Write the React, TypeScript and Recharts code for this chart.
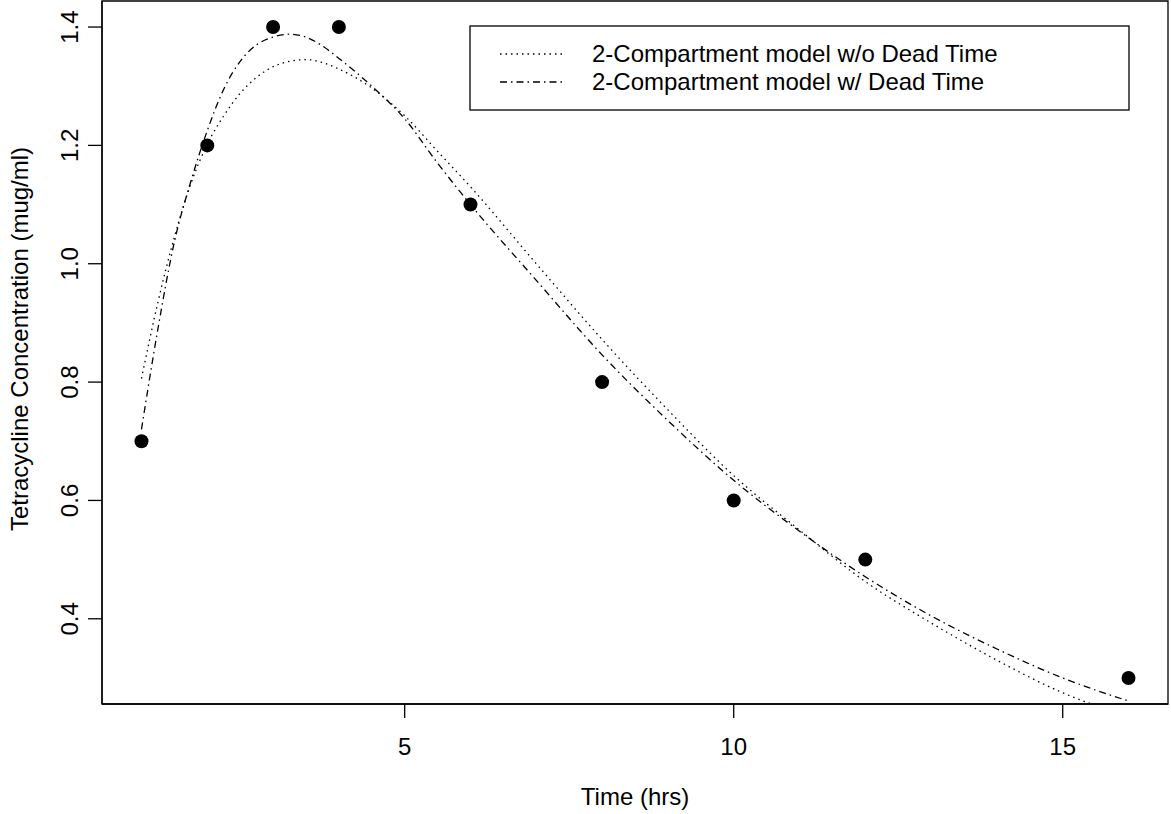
import {
  ComposedChart,
  Line,
  Scatter,
  XAxis,
  YAxis,
  ReferenceArea,
  Label,
} from "recharts"

// observed tetracycline concentrations
const obsTime = [1, 2, 3, 4, 6, 8, 10, 12, 16]
const obsConc = [0.7, 1.2, 1.4, 1.4, 1.1, 0.8, 0.6, 0.5, 0.3]

// fitted curves
const fitTime = [
  1, 1.25, 1.5, 1.75, 2, 2.25, 2.5, 2.75, 3, 3.25, 3.5, 3.75, 4, 4.5, 5, 5.5, 6, 7, 8, 9, 10,
  11, 12, 13, 14, 15, 16,
]
const noDeadTime = [
  0.806, 0.935, 1.045, 1.135, 1.202, 1.25, 1.288, 1.315, 1.333, 1.342, 1.345, 1.34, 1.329,
  1.297, 1.25, 1.19, 1.13, 1.0, 0.872, 0.753, 0.642, 0.55, 0.463, 0.393, 0.33, 0.275, 0.235,
]
const withDeadTime = [
  0.72, 0.89, 1.037, 1.139, 1.225, 1.295, 1.342, 1.37, 1.383, 1.388, 1.383, 1.368, 1.347,
  1.3, 1.245, 1.17, 1.1, 0.972, 0.846, 0.735, 0.634, 0.548, 0.471, 0.405, 0.349, 0.3, 0.261,
]

const xTicks = [5, 10, 15]
const yTicks = [0.4, 0.6, 0.8, 1.0, 1.2, 1.4]

const legendLabels = ["2-Compartment model w/o Dead Time", "2-Compartment model w/ Dead Time"]

const points = obsTime.map((t, i) => ({ t, v: obsConc[i] }))
const fitA = fitTime.map((t, i) => ({ t, v: noDeadTime[i] }))
const fitB = fitTime.map((t, i) => ({ t, v: withDeadTime[i] }))

const FONT = "'Liberation Sans', Arial, sans-serif"
const DOTTED = "1.5 4"
const DASHDOT = "7 4 1.5 4"

const XTick = ({ x, payload }: any) => (
  <text x={x} y={755} textAnchor="middle" fontSize={24} fontFamily={FONT} fill="#000">
    {payload.value}
  </text>
)

const YTick = ({ y, payload }: any) => (
  <text
    x={78}
    y={y}
    transform={`rotate(-90 78 ${y})`}
    textAnchor="middle"
    fontSize={24}
    fontFamily={FONT}
    fill="#000"
  >
    {Number(payload.value).toFixed(1)}
  </text>
)

const LegendBox = () => (
  <svg width={662} height={86} style={{ display: "block" }}>
    <rect x={1} y={1} width={659} height={84} fill="#fff" stroke="#000" strokeWidth={1.3} />
    {legendLabels.map((label, i) => {
      const cy = 29 + i * 28
      return (
        <g key={label}>
          <line
            x1={31}
            x2={94}
            y1={cy}
            y2={cy}
            stroke="#000"
            strokeWidth={1.3}
            strokeDasharray={i === 0 ? DOTTED : DASHDOT}
          />
          <text x={123} y={cy + 8} fontSize={24} fontFamily={FONT} fill="#000">
            {label}
          </text>
        </g>
      )
    })}
  </svg>
)

export default function App() {
  return (
    <div style={{ position: "absolute", left: 0, top: 0, width: 1171, height: 814, background: "#fff" }}>
      <ComposedChart width={1171} height={814} margin={{ top: 1, right: 3, bottom: 0, left: 0 }}>
        <XAxis
          dataKey="t"
          type="number"
          domain={[0.4, 16.6]}
          ticks={xTicks}
          allowDataOverflow
          height={110}
          tickSize={14}
          axisLine={{ stroke: "#000", strokeWidth: 1.3 }}
          tickLine={{ stroke: "#000", strokeWidth: 1.3 }}
          tick={<XTick />}
        >
          <Label
            content={() => (
              <text x={635} y={805} textAnchor="middle" fontSize={24} fontFamily={FONT} fill="#000">
                Time (hrs)
              </text>
            )}
          />
        </XAxis>
        <YAxis
          dataKey="v"
          type="number"
          domain={[0.256, 1.444]}
          ticks={yTicks}
          allowDataOverflow
          width={102}
          tickSize={14}
          axisLine={{ stroke: "#000", strokeWidth: 1.3 }}
          tickLine={{ stroke: "#000", strokeWidth: 1.3 }}
          tick={<YTick />}
        >
          <Label
            content={() => (
              <text
                x={28}
                y={339}
                transform="rotate(-90 28 339)"
                textAnchor="middle"
                fontSize={24}
                fontFamily={FONT}
                fill="#000"
              >
                Tetracycline Concentration (mug/ml)
              </text>
            )}
          />
        </YAxis>
        <ReferenceArea
          x1={0.4}
          x2={16.6}
          y1={0.256}
          y2={1.444}
          fill="none"
          stroke="#000"
          strokeWidth={1.3}
          ifOverflow="visible"
        />
        <Line
          data={fitA}
          dataKey="v"
          type="monotone"
          stroke="#000"
          strokeWidth={1.3}
          strokeDasharray={DOTTED}
          dot={false}
          activeDot={false}
          isAnimationActive={false}
        />
        <Line
          data={fitB}
          dataKey="v"
          type="monotone"
          stroke="#000"
          strokeWidth={1.3}
          strokeDasharray={DASHDOT}
          dot={false}
          activeDot={false}
          isAnimationActive={false}
        />
        <Scatter
          data={points}
          dataKey="v"
          fill="#000"
          isAnimationActive={false}
          shape={(p: any) => <circle cx={p.cx} cy={p.cy} r={7} fill="#000" />}
        />
      </ComposedChart>
      <div style={{ position: "absolute", left: 469, top: 25 }}>
        <LegendBox />
      </div>
    </div>
  )
}
